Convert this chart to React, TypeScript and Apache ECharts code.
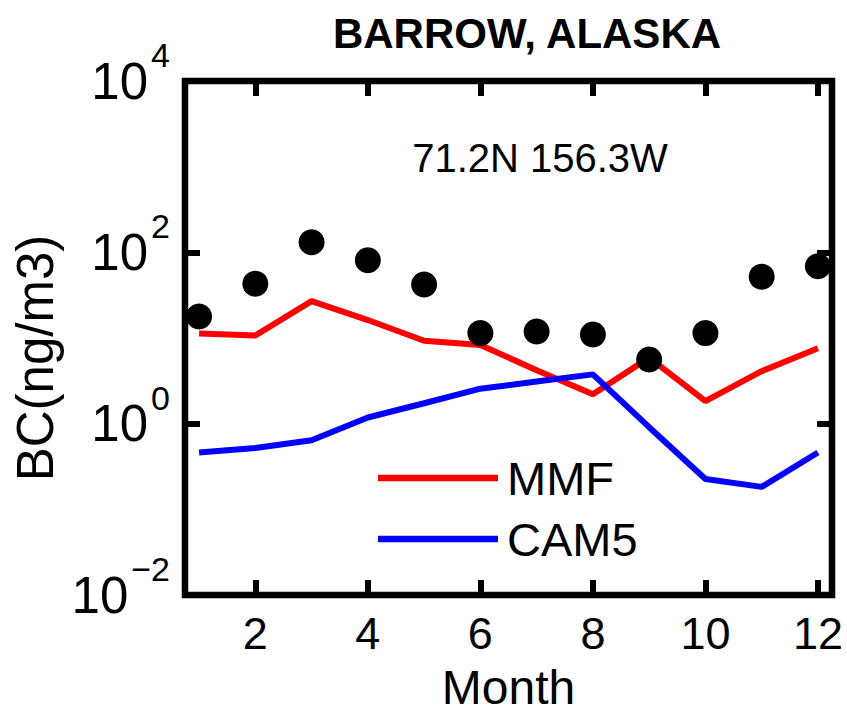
import React, { useEffect, useRef } from "react";
import * as echarts from "echarts";

const months = [1, 2, 3, 4, 5, 6, 7, 8, 9, 10, 11, 12];
const observed = [17.8, 43, 131, 81, 42, 11.4, 11.9, 11, 5.6, 11.4, 52, 69];
const mmf = [11.3, 10.7, 26.9, 16.2, 9.3, 8.3, 4.2, 2.2, 5.9, 1.83, 4.1, 7.6];
const cam5 = [0.46, 0.52, 0.64, 1.18, 1.73, 2.56, 3.1, 3.76, 0.91, 0.226, 0.183, 0.46];
const xTicks = [2, 4, 6, 8, 10, 12];
const yTicks = [0.01, 1, 100, 10000];
const yTickExponents = ["\u22122", "0", "2", "4"];

const FONT = "'Liberation Sans', Arial, Helvetica, sans-serif";

export default function App() {
  const ref = useRef<HTMLDivElement>(null);
  useEffect(() => {
    if (!ref.current) return;
    const chart = echarts.init(ref.current, undefined, { renderer: "svg" });
    const yLabel = (v: number) => {
      const i = yTicks.findIndex((t) => Math.abs(Math.log10(t) - Math.log10(v)) < 1e-6);
      const e = i >= 0 ? yTickExponents[i] : String(Math.round(Math.log10(v)));
      return `{b|10}{s|${e}}`;
    };
    const tickStyle = { show: true, inside: true, length: 15, lineStyle: { color: "#000", width: 6 } };
    chart.setOption({
      animation: false,
      grid: {
        left: 185,
        right: 15,
        top: 81,
        bottom: 120,
        show: true,
        borderColor: "#000",
        borderWidth: 6.5,
        backgroundColor: "transparent",
      },
      xAxis: [
        {
          type: "value",
          min: 0.75,
          max: 12.25,
          position: "bottom",
          axisLine: { show: false },
          splitLine: { show: false },
          axisTick: { ...tickStyle, customValues: xTicks },
          axisLabel: {
            customValues: xTicks,
            margin: 16,
            color: "#000",
            fontSize: 45,
            fontFamily: FONT,
          },
          name: "Month",
          nameLocation: "middle",
          nameGap: 68,
          nameTextStyle: { color: "#000", fontSize: 48, fontFamily: FONT },
        },
        {
          type: "value",
          min: 0.75,
          max: 12.25,
          position: "top",
          axisLine: { show: false },
          splitLine: { show: false },
          axisTick: { ...tickStyle, customValues: xTicks },
          axisLabel: { show: false },
        },
      ],
      yAxis: [
        {
          type: "log",
          logBase: 10,
          min: 0.01,
          max: 10000,
          position: "left",
          axisLine: { show: false },
          splitLine: { show: false },
          axisTick: { ...tickStyle, customValues: yTicks },
          axisLabel: {
            customValues: yTicks,
            margin: 15,
            formatter: yLabel,
            rich: {
              b: { fontSize: 51, fontFamily: FONT, color: "#000", lineHeight: 51 },
              s: { fontSize: 34, fontFamily: FONT, color: "#000", lineHeight: 34, padding: [0, 0, 52, 3] },
            },
          },
          name: "BC(ng/m3)",
          nameLocation: "middle",
          nameGap: 120,
          nameTextStyle: { color: "#000", fontSize: 51, fontFamily: FONT, padding: [0, 40, 0, 0] },
        },
        {
          type: "log",
          logBase: 10,
          min: 0.01,
          max: 10000,
          position: "right",
          axisLine: { show: false },
          splitLine: { show: false },
          axisTick: { ...tickStyle, customValues: yTicks },
          axisLabel: { show: false },
        },
      ],
      legend: {
        data: ["MMF", "CAM5"],
        orient: "vertical",
        left: 373,
        top: 448,
        icon: "rect",
        itemWidth: 120,
        itemHeight: 6.5,
        itemGap: 11,
        textStyle: { color: "#000", fontSize: 47, fontFamily: FONT, lineHeight: 50, padding: [0, 0, 0, 4] },
        selectedMode: false,
      },
      graphic: [
        {
          type: "text",
          x: 527,
          y: 33,
          style: {
            text: "BARROW, ALASKA",
            font: `bold 42px ${FONT}`,
            fill: "#000",
            textAlign: "center",
            textVerticalAlign: "middle",
          },
        },
        {
          type: "text",
          x: 540,
          y: 158,
          style: {
            text: "71.2N 156.3W",
            font: `40px ${FONT}`,
            fill: "#000",
            textAlign: "center",
            textVerticalAlign: "middle",
          },
        },
      ],
      series: [
        {
          name: "MMF",
          type: "line",
          data: months.map((m, i) => [m, mmf[i]]),
          symbol: "none",
          lineStyle: { color: "#ff0000", width: 6 },
          itemStyle: { color: "#ff0000" },
          z: 2,
        },
        {
          name: "CAM5",
          type: "line",
          data: months.map((m, i) => [m, cam5[i]]),
          symbol: "none",
          lineStyle: { color: "#0000ff", width: 6 },
          itemStyle: { color: "#0000ff" },
          z: 2,
        },
        {
          name: "Observed",
          type: "scatter",
          data: months.map((m, i) => [m, observed[i]]),
          symbol: "circle",
          symbolSize: 26,
          itemStyle: { color: "#000", opacity: 1 },
          z: 3,
        },
      ],
    });
    return () => chart.dispose();
  }, []);
  return <div ref={ref} style={{ position: "absolute", left: 0, top: 0, width: 847, height: 716 }} />;
}
